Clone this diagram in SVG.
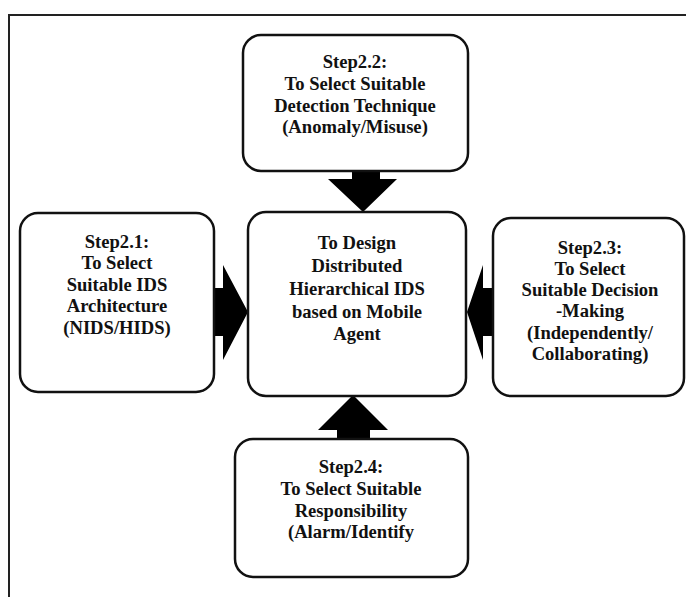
<svg xmlns="http://www.w3.org/2000/svg" width="686" height="597" viewBox="0 0 686 597">
<style>
.box{fill:#fff;stroke:#111;stroke-width:2.5}
.t{font-family:"Liberation Serif","Times New Roman",serif;font-weight:bold;font-size:18.6px;fill:#111;text-anchor:middle}
.arr{fill:#000}
.frame{stroke:#222;stroke-width:2;fill:none}
</style>
<rect width="686" height="597" fill="#fff"/>
<path class="frame" d="M9,597 V15 H686"/>
<g id="connectors">
<polygon class="arr" points="352,171 380,171 380,179 397,179 363,212 328,179 352,179"/>
<polygon class="arr" points="214,288 223,288 223,265 248,312 223,360 223,336 214,336"/>
<polygon class="arr" points="493,288 483,288 483,265 467,312 483,360 483,336 493,336"/>
<polygon class="arr" points="337,439 370,439 370,430 388,430 353,395 318,430 337,430"/>
</g>
<g id="step22">
<rect class="box" x="243" y="35" width="225" height="136" rx="18"/>
<text class="t" x="355" y="68">Step2.2:</text>
<text class="t" x="355" y="90">To Select Suitable</text>
<text class="t" x="355" y="112">Detection Technique</text>
<text class="t" x="355" y="133">(Anomaly/Misuse)</text>
</g>
<g id="center">
<rect class="box" x="248" y="212" width="218" height="184" rx="18"/>
<text class="t" x="357" y="249">To Design</text>
<text class="t" x="357" y="272">Distributed</text>
<text class="t" x="357" y="295">Hierarchical IDS</text>
<text class="t" x="357" y="318">based on Mobile</text>
<text class="t" x="357" y="340">Agent</text>
</g>
<g id="step21">
<rect class="box" x="20" y="213" width="194" height="179" rx="18"/>
<text class="t" x="117" y="248">Step2.1:</text>
<text class="t" x="117" y="269">To Select</text>
<text class="t" x="117" y="291">Suitable IDS</text>
<text class="t" x="117" y="312">Architecture</text>
<text class="t" x="117" y="334">(NIDS/HIDS)</text>
</g>
<g id="step23">
<rect class="box" x="493" y="218" width="191" height="178" rx="18"/>
<text class="t" x="590" y="254">Step2.3:</text>
<text class="t" x="590" y="275">To Select</text>
<text class="t" x="590" y="296">Suitable Decision</text>
<text class="t" x="590" y="317">-Making</text>
<text class="t" x="590" y="339">(Independently/</text>
<text class="t" x="590" y="360">Collaborating)</text>
</g>
<g id="step24">
<rect class="box" x="235" y="439" width="233" height="138" rx="18"/>
<text class="t" x="351" y="473">Step2.4:</text>
<text class="t" x="351" y="495">To Select Suitable</text>
<text class="t" x="351" y="517">Responsibility</text>
<text class="t" x="351" y="538">(Alarm/Identify</text>
</g>
</svg>
